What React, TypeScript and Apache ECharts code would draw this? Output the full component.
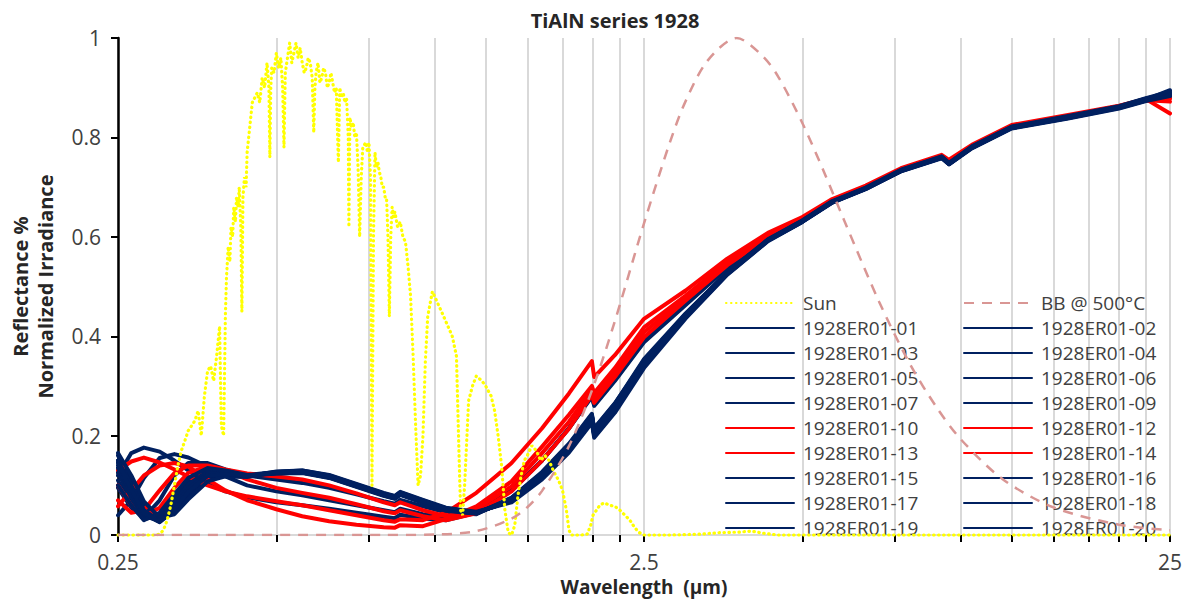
import React, { useEffect, useRef } from "react";
import * as echarts from "echarts";

const TITLE = "TiAlN series 1928";
const Y_NAME = "Reflectance %\nNormalized Irradiance";
const X_NAME = "Wavelength  (µm)";
const X_TICKS = [0.25, 0.5, 0.75, 1, 1.25, 1.5, 1.75, 2, 2.25, 2.5, 5, 7.5, 10, 12.5, 15, 17.5, 20, 22.5, 25];
const X_LABELS = [0.25, 2.5, 25];

// wavelength grid (µm) of the reflectance measurements
const WL = [0.25, 0.265, 0.28, 0.3, 0.32, 0.34, 0.37, 0.4, 0.44, 0.5, 0.56, 0.63, 0.71, 0.8, 0.84, 0.86, 0.95, 1.05, 1.2, 1.4, 1.6, 1.8, 1.99, 2.01, 2.2, 2.5, 3.0, 3.6, 4.3, 5.0, 5.7, 6.6, 7.7, 9.2, 9.5, 10.5, 12.5, 16, 20, 22.5, 25];

const R01 = [0.120, 0.165, 0.176, 0.168, 0.150, 0.130, 0.105, 0.088, 0.076, 0.066, 0.060, 0.053, 0.045, 0.037, 0.034, 0.041, 0.033, 0.030, 0.045, 0.090, 0.150, 0.215, 0.280, 0.262, 0.312, 0.390, 0.465, 0.540, 0.600, 0.636, 0.674, 0.701, 0.736, 0.763, 0.751, 0.783, 0.823, 0.843, 0.863, 0.878, 0.888];
const R02 = [0.040, 0.070, 0.115, 0.155, 0.163, 0.156, 0.138, 0.118, 0.100, 0.088, 0.080, 0.070, 0.060, 0.050, 0.046, 0.053, 0.042, 0.036, 0.046, 0.090, 0.150, 0.215, 0.278, 0.260, 0.310, 0.388, 0.463, 0.538, 0.598, 0.634, 0.672, 0.699, 0.734, 0.761, 0.749, 0.781, 0.821, 0.841, 0.861, 0.876, 0.886];
const R03 = [0.095, 0.055, 0.035, 0.070, 0.120, 0.145, 0.145, 0.132, 0.120, 0.112, 0.105, 0.095, 0.082, 0.068, 0.063, 0.071, 0.058, 0.046, 0.042, 0.075, 0.125, 0.180, 0.240, 0.215, 0.265, 0.350, 0.445, 0.528, 0.594, 0.632, 0.670, 0.698, 0.733, 0.760, 0.748, 0.780, 0.820, 0.840, 0.860, 0.874, 0.884];
const R04 = [0.150, 0.095, 0.045, 0.030, 0.055, 0.090, 0.120, 0.122, 0.120, 0.126, 0.128, 0.118, 0.100, 0.082, 0.076, 0.084, 0.068, 0.052, 0.045, 0.070, 0.120, 0.175, 0.235, 0.205, 0.255, 0.345, 0.440, 0.526, 0.593, 0.631, 0.670, 0.697, 0.733, 0.760, 0.747, 0.780, 0.820, 0.840, 0.860, 0.875, 0.885];
const R05 = [0.160, 0.110, 0.060, 0.032, 0.045, 0.078, 0.112, 0.120, 0.118, 0.128, 0.130, 0.120, 0.102, 0.084, 0.078, 0.086, 0.070, 0.054, 0.046, 0.068, 0.115, 0.170, 0.230, 0.200, 0.250, 0.340, 0.438, 0.525, 0.592, 0.630, 0.669, 0.697, 0.732, 0.759, 0.746, 0.779, 0.819, 0.839, 0.859, 0.874, 0.884];
const R06 = [0.130, 0.080, 0.040, 0.028, 0.060, 0.098, 0.125, 0.125, 0.118, 0.125, 0.127, 0.117, 0.099, 0.081, 0.075, 0.083, 0.067, 0.051, 0.044, 0.072, 0.122, 0.178, 0.238, 0.208, 0.258, 0.348, 0.442, 0.527, 0.594, 0.632, 0.671, 0.698, 0.734, 0.761, 0.748, 0.781, 0.821, 0.841, 0.861, 0.877, 0.887];
const R07 = [0.110, 0.065, 0.032, 0.040, 0.075, 0.110, 0.132, 0.128, 0.120, 0.124, 0.126, 0.116, 0.098, 0.080, 0.074, 0.082, 0.066, 0.050, 0.043, 0.074, 0.125, 0.182, 0.242, 0.212, 0.262, 0.352, 0.444, 0.528, 0.595, 0.633, 0.672, 0.699, 0.735, 0.762, 0.749, 0.782, 0.822, 0.842, 0.862, 0.878, 0.890];
const R09 = [0.140, 0.090, 0.042, 0.026, 0.050, 0.085, 0.118, 0.124, 0.121, 0.127, 0.129, 0.119, 0.101, 0.083, 0.077, 0.085, 0.069, 0.053, 0.045, 0.069, 0.118, 0.172, 0.232, 0.202, 0.252, 0.342, 0.439, 0.526, 0.593, 0.631, 0.670, 0.697, 0.732, 0.759, 0.747, 0.779, 0.819, 0.839, 0.860, 0.875, 0.886];
const R10 = [0.130, 0.148, 0.156, 0.146, 0.132, 0.118, 0.100, 0.088, 0.078, 0.068, 0.060, 0.050, 0.040, 0.030, 0.027, 0.032, 0.030, 0.045, 0.085, 0.145, 0.215, 0.285, 0.350, 0.318, 0.362, 0.435, 0.492, 0.556, 0.608, 0.640, 0.676, 0.703, 0.738, 0.765, 0.755, 0.785, 0.825, 0.845, 0.864, 0.877, 0.848];
const R12 = [0.058, 0.090, 0.120, 0.140, 0.145, 0.138, 0.112, 0.090, 0.070, 0.052, 0.038, 0.028, 0.021, 0.016, 0.015, 0.020, 0.018, 0.032, 0.058, 0.108, 0.178, 0.242, 0.300, 0.286, 0.336, 0.418, 0.482, 0.550, 0.603, 0.637, 0.673, 0.701, 0.736, 0.763, 0.752, 0.783, 0.823, 0.843, 0.862, 0.875, 0.872];
const R13 = [0.070, 0.045, 0.050, 0.090, 0.125, 0.140, 0.140, 0.132, 0.124, 0.118, 0.112, 0.100, 0.084, 0.066, 0.060, 0.066, 0.050, 0.038, 0.052, 0.098, 0.165, 0.228, 0.292, 0.276, 0.327, 0.408, 0.477, 0.547, 0.601, 0.636, 0.672, 0.700, 0.735, 0.762, 0.751, 0.782, 0.822, 0.842, 0.861, 0.875, 0.880];
const R14 = [0.100, 0.060, 0.038, 0.055, 0.095, 0.125, 0.138, 0.130, 0.112, 0.095, 0.085, 0.075, 0.062, 0.048, 0.044, 0.050, 0.038, 0.030, 0.044, 0.088, 0.150, 0.214, 0.282, 0.266, 0.318, 0.398, 0.472, 0.543, 0.599, 0.635, 0.671, 0.699, 0.734, 0.761, 0.750, 0.781, 0.821, 0.841, 0.861, 0.875, 0.878];
const R15 = [0.165, 0.120, 0.068, 0.035, 0.042, 0.072, 0.108, 0.118, 0.117, 0.127, 0.130, 0.121, 0.103, 0.085, 0.079, 0.087, 0.071, 0.055, 0.047, 0.066, 0.112, 0.166, 0.226, 0.196, 0.246, 0.336, 0.436, 0.524, 0.591, 0.630, 0.669, 0.696, 0.732, 0.758, 0.746, 0.778, 0.818, 0.838, 0.858, 0.873, 0.883];
const R16 = [0.125, 0.075, 0.036, 0.032, 0.065, 0.102, 0.128, 0.126, 0.119, 0.124, 0.126, 0.116, 0.098, 0.080, 0.074, 0.082, 0.066, 0.050, 0.044, 0.073, 0.124, 0.180, 0.240, 0.210, 0.260, 0.350, 0.443, 0.528, 0.594, 0.633, 0.671, 0.698, 0.734, 0.761, 0.748, 0.781, 0.821, 0.841, 0.862, 0.877, 0.888];
const R17 = [0.150, 0.100, 0.050, 0.028, 0.050, 0.088, 0.120, 0.123, 0.119, 0.126, 0.128, 0.118, 0.100, 0.082, 0.076, 0.084, 0.068, 0.052, 0.045, 0.070, 0.119, 0.174, 0.234, 0.204, 0.254, 0.344, 0.440, 0.526, 0.593, 0.631, 0.670, 0.697, 0.733, 0.760, 0.747, 0.780, 0.820, 0.840, 0.860, 0.875, 0.885];
const R18 = [0.135, 0.085, 0.040, 0.030, 0.058, 0.094, 0.123, 0.124, 0.119, 0.125, 0.127, 0.117, 0.099, 0.081, 0.075, 0.083, 0.067, 0.051, 0.044, 0.071, 0.121, 0.176, 0.236, 0.206, 0.256, 0.346, 0.441, 0.527, 0.593, 0.632, 0.670, 0.698, 0.733, 0.760, 0.748, 0.780, 0.820, 0.840, 0.861, 0.876, 0.886];
const R19 = [0.100, 0.060, 0.030, 0.045, 0.082, 0.115, 0.135, 0.130, 0.121, 0.124, 0.125, 0.115, 0.097, 0.079, 0.073, 0.081, 0.065, 0.049, 0.043, 0.075, 0.127, 0.184, 0.244, 0.214, 0.264, 0.354, 0.446, 0.529, 0.595, 0.633, 0.672, 0.699, 0.735, 0.762, 0.749, 0.782, 0.822, 0.843, 0.863, 0.879, 0.892];
const R20 = [0.145, 0.092, 0.044, 0.027, 0.052, 0.087, 0.119, 0.123, 0.120, 0.126, 0.128, 0.118, 0.100, 0.082, 0.076, 0.084, 0.068, 0.052, 0.045, 0.070, 0.118, 0.173, 0.233, 0.203, 0.253, 0.343, 0.440, 0.526, 0.593, 0.631, 0.670, 0.697, 0.733, 0.760, 0.747, 0.780, 0.820, 0.840, 0.860, 0.876, 0.895];

const SAMPLE_NAMES = ["1928ER01-01", "1928ER01-02", "1928ER01-03", "1928ER01-04", "1928ER01-05", "1928ER01-06", "1928ER01-07", "1928ER01-09", "1928ER01-10", "1928ER01-12", "1928ER01-13", "1928ER01-14", "1928ER01-15", "1928ER01-16", "1928ER01-17", "1928ER01-18", "1928ER01-19", "1928ER01-20"];
const SAMPLE_VALUES = [R01, R02, R03, R04, R05, R06, R07, R09, R10, R12, R13, R14, R15, R16, R17, R18, R19, R20];
const RED_SAMPLES = ["1928ER01-10", "1928ER01-12", "1928ER01-13", "1928ER01-14"];

// normalized solar irradiance [wavelength µm, value]
const SUN = [
  [0.25, 0], [0.28, 0], [0.295, 0], [0.3, 0.002], [0.305, 0.01], [0.31, 0.03], [0.315, 0.06], [0.32, 0.1], [0.325, 0.14], [0.33, 0.17],
  [0.335, 0.19], [0.34, 0.21], [0.345, 0.22], [0.35, 0.23], [0.355, 0.25], [0.36, 0.2], [0.365, 0.28], [0.37, 0.33], [0.375, 0.34], [0.38, 0.31],
  [0.385, 0.36], [0.39, 0.42], [0.393, 0.22], [0.397, 0.2], [0.4, 0.44], [0.402, 0.52], [0.405, 0.58], [0.408, 0.55], [0.41, 0.62], [0.413, 0.6],
  [0.415, 0.66], [0.418, 0.63], [0.42, 0.68], [0.423, 0.66], [0.425, 0.7], [0.428, 0.62], [0.43, 0.45], [0.432, 0.68], [0.435, 0.72], [0.438, 0.7],
  [0.44, 0.77], [0.443, 0.8], [0.445, 0.82], [0.448, 0.85], [0.45, 0.87], [0.455, 0.88], [0.46, 0.89], [0.465, 0.87], [0.47, 0.92], [0.475, 0.9],
  [0.48, 0.95], [0.484, 0.9], [0.486, 0.76], [0.488, 0.9], [0.49, 0.94], [0.495, 0.93], [0.5, 0.97], [0.505, 0.94], [0.51, 0.96], [0.514, 0.9],
  [0.517, 0.78], [0.52, 0.93], [0.525, 0.96], [0.53, 0.99], [0.535, 0.95], [0.54, 0.97], [0.545, 0.99], [0.55, 0.96], [0.555, 0.98], [0.56, 0.95],
  [0.565, 0.93], [0.57, 0.94], [0.575, 0.96], [0.58, 0.95], [0.585, 0.92], [0.589, 0.81], [0.592, 0.9], [0.595, 0.93], [0.6, 0.95], [0.605, 0.91],
  [0.61, 0.92], [0.615, 0.94], [0.62, 0.93], [0.625, 0.9], [0.63, 0.91], [0.635, 0.93], [0.64, 0.91], [0.645, 0.89], [0.65, 0.9], [0.656, 0.75],
  [0.66, 0.9], [0.665, 0.88], [0.67, 0.89], [0.675, 0.87], [0.68, 0.88], [0.685, 0.8], [0.687, 0.62], [0.69, 0.84], [0.695, 0.82], [0.7, 0.83],
  [0.705, 0.8], [0.71, 0.81], [0.715, 0.74], [0.72, 0.6], [0.725, 0.72], [0.73, 0.78], [0.74, 0.79], [0.745, 0.77], [0.75, 0.79], [0.755, 0.72],
  [0.76, 0.1], [0.765, 0.6], [0.77, 0.77], [0.775, 0.74], [0.78, 0.75], [0.785, 0.73], [0.79, 0.72], [0.795, 0.7], [0.8, 0.7], [0.805, 0.68],
  [0.81, 0.68], [0.815, 0.6], [0.82, 0.44], [0.825, 0.6], [0.83, 0.66], [0.835, 0.64], [0.84, 0.65], [0.85, 0.62], [0.86, 0.63], [0.87, 0.6],
  [0.88, 0.59], [0.89, 0.54], [0.9, 0.48], [0.91, 0.36], [0.92, 0.22], [0.93, 0.1], [0.94, 0.12], [0.95, 0.2], [0.96, 0.35], [0.97, 0.44],
  [0.99, 0.49], [1.0, 0.48], [1.03, 0.45], [1.06, 0.42], [1.08, 0.4], [1.1, 0.36], [1.11, 0.2], [1.12, 0.05], [1.13, 0.04], [1.14, 0.1],
  [1.16, 0.27], [1.18, 0.3], [1.2, 0.32], [1.23, 0.31], [1.25, 0.3], [1.28, 0.28], [1.3, 0.25], [1.32, 0.2], [1.34, 0.14], [1.36, 0.05],
  [1.38, 0.005], [1.4, 0], [1.42, 0.02], [1.44, 0.08], [1.46, 0.12], [1.48, 0.15], [1.5, 0.16], [1.53, 0.18], [1.56, 0.17], [1.59, 0.15],
  [1.62, 0.16], [1.65, 0.15], [1.68, 0.13], [1.72, 0.11], [1.75, 0.09], [1.78, 0.05], [1.8, 0.01], [1.82, 0], [1.86, 0], [1.9, 0],
  [1.95, 0.002], [1.98, 0.02], [2.0, 0.04], [2.03, 0.05], [2.06, 0.06], [2.1, 0.065], [2.15, 0.06], [2.2, 0.058], [2.25, 0.05], [2.3, 0.04],
  [2.35, 0.03], [2.4, 0.015], [2.45, 0.005], [2.5, 0], [2.8, 0], [3.2, 0.002], [3.5, 0.005], [3.8, 0.006], [4.0, 0.008], [4.2, 0.004],
  [4.5, 0], [25, 0],
];

// normalized blackbody at 500 °C [wavelength µm, value]
const BB = [
  [0.25, 0], [0.8, 0], [1.0, 0.001], [1.2, 0.008], [1.4, 0.033], [1.5, 0.056], [1.6, 0.089], [1.8, 0.179], [2.0, 0.297], [2.2, 0.43],
  [2.5, 0.627], [2.8, 0.79], [3.0, 0.873], [3.3, 0.954], [3.75, 1.0], [4.2, 0.964], [4.5, 0.922], [5.0, 0.829], [5.5, 0.73], [6.0, 0.634],
  [7.0, 0.469], [8.0, 0.345], [9.0, 0.257], [10, 0.193], [12, 0.113], [15, 0.056], [20, 0.021], [25, 0.0097],
];

const LEGEND_LEFT = ["Sun", "1928ER01-01", "1928ER01-03", "1928ER01-05", "1928ER01-07", "1928ER01-10", "1928ER01-13", "1928ER01-15", "1928ER01-17", "1928ER01-19"];
const LEGEND_RIGHT = ["BB @ 500°C", "1928ER01-02", "1928ER01-04", "1928ER01-06", "1928ER01-09", "1928ER01-12", "1928ER01-14", "1928ER01-16", "1928ER01-18", "1928ER01-20"];

const NAVY = "#002060";
const RED = "#FF0000";
const FONT = "'Open Sans', 'Liberation Sans', sans-serif";
const TXT = "#404040";

export default function App() {
  const ref = useRef<HTMLDivElement>(null);
  useEffect(() => {
    if (!ref.current) return;
    const chart = echarts.init(ref.current, undefined, { renderer: "svg" });
    const sampleSeries = SAMPLE_NAMES.map((name, i) => ({
      name,
      type: "line",
      symbol: "none",
      data: WL.map((w, j) => [w, SAMPLE_VALUES[i][j]]),
      lineStyle: { color: RED_SAMPLES.includes(name) ? RED : NAVY, width: 4, join: "round", cap: "round" },
      itemStyle: { color: RED_SAMPLES.includes(name) ? RED : NAVY },
      z: 2,
    }));
    const legendCommon = {
      orient: "vertical",
      top: 288,
      itemWidth: 68,
      itemHeight: 20,
      itemGap: 5,
      itemStyle: { opacity: 0 },
      textStyle: { fontFamily: FONT, fontSize: 19, lineHeight: 20, color: TXT, padding: [0, 0, 0, 4] },
      selectedMode: false,
    };
    chart.setOption({
      animation: false,
      backgroundColor: "#ffffff",
      title: {
        text: TITLE,
        left: 610,
        top: 5,
        textAlign: "center",
        textStyle: { fontFamily: FONT, fontSize: 20, fontWeight: "bold", color: "#262626" },
      },
      grid: { left: 116, right: 18, top: 38, bottom: 62, containLabel: false },
      legend: [
        { ...legendCommon, left: 720, data: LEGEND_LEFT },
        { ...legendCommon, left: 958, data: LEGEND_RIGHT },
      ],
      xAxis: [
        {
          type: "log",
          logBase: 10,
          min: 0.25,
          max: 25,
          name: X_NAME,
          nameLocation: "middle",
          nameGap: 35,
          nameTextStyle: { fontFamily: FONT, fontSize: 19, fontWeight: "bold", color: "#262626" },
          axisLine: { show: true, onZero: false, lineStyle: { color: "#000000", width: 2 } },
          axisTick: { show: true, customValues: X_TICKS, length: 7, lineStyle: { color: "#000000", width: 2 } },
          axisLabel: {
            customValues: X_LABELS,
            margin: 16,
            fontFamily: FONT,
            fontSize: 21,
            color: TXT,
            formatter: (v: number) => String(Math.round(v * 100) / 100),
          },
          splitLine: { show: true, lineStyle: { color: "#D9D9D9", width: 2 } },
          minorTick: { show: false },
        },
        {
          type: "value",
          position: "top",
          min: 0,
          max: 1,
          axisLine: { show: true, lineStyle: { color: "#D9D9D9", width: 2 } },
          axisTick: { show: false },
          axisLabel: { show: false },
          splitLine: { show: false },
        },
      ],
      yAxis: {
        type: "value",
        min: 0,
        max: 1,
        interval: 0.2,
        name: Y_NAME,
        nameLocation: "middle",
        nameRotate: 90,
        nameGap: 60,
        nameTextStyle: { fontFamily: FONT, fontSize: 20, fontWeight: "bold", color: "#262626", lineHeight: 25 },
        axisLine: { show: true, lineStyle: { color: "#000000", width: 2.5 } },
        axisTick: { show: true, length: 7, lineStyle: { color: "#000000", width: 2 } },
        axisLabel: { margin: 17, fontFamily: FONT, fontSize: 21, color: TXT, formatter: (v: number) => String(Math.round(v * 10) / 10) },
        splitLine: { show: false },
      },
      series: [
        {
          name: "Sun",
          type: "line",
          symbol: "none",
          data: SUN,
          lineStyle: { color: "#FFFF00", width: 3.2, type: [0.5, 4.5], cap: "round" },
          itemStyle: { color: "#FFFF00" },
          z: 4,
        },
        {
          name: "BB @ 500°C",
          type: "line",
          symbol: "none",
          smooth: 0.3,
          data: BB,
          lineStyle: { color: "#D99694", width: 2.5, type: [10, 8] },
          itemStyle: { color: "#D99694" },
          z: 4,
        },
        ...sampleSeries,
      ],
    });
    return () => chart.dispose();
  }, []);
  return <div ref={ref} style={{ position: "fixed", left: 0, top: 0, width: 1188, height: 601 }} />;
}
